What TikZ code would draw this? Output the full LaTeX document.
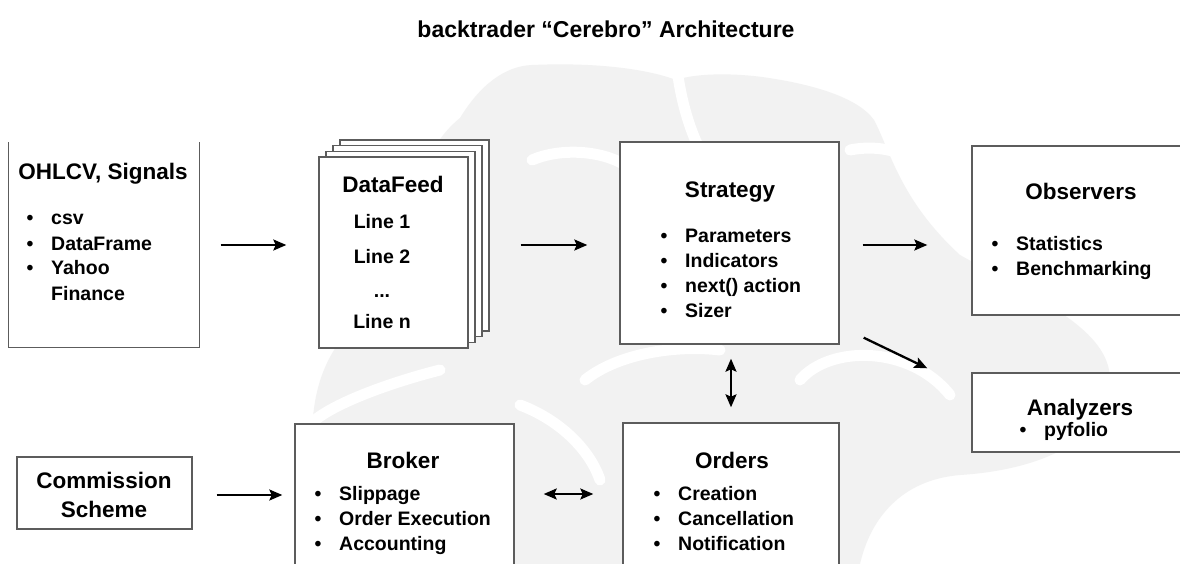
\documentclass[tikz,border=0pt]{standalone}
\usepackage{fontspec}
\setmainfont{Liberation Sans}
\usetikzlibrary{arrows.meta}
\definecolor{brain}{HTML}{F2F2F2}
\definecolor{frame}{HTML}{5C5C5C}
\newcommand{\boxhead}{\fontsize{22.5}{27}\selectfont\bfseries}
\newcommand{\boxitem}{\fontsize{19.5}{25}\selectfont\bfseries}
\newcommand{\bul}{\makebox[24.5pt][l]{\textbullet}}
\newcommand{\blist}[1]{\begin{tabular}[t]{@{}l@{}}#1\end{tabular}}
\newcommand{\feeddots}{...}

\begin{document}
\begin{tikzpicture}[x=1pt,y=-1pt,>={Stealth[length=13pt,width=11pt,inset=2.5pt]},
		panel/.style={draw=frame,line width=1.4pt,fill=white,inner sep=0pt},
		hd/.style={inner sep=0pt,anchor=base,font=\boxhead},
		lst/.style={inner sep=0pt,anchor=base west,font=\boxitem},
		link/.style={line width=2.3pt}]
		%
		\useasboundingbox (0,0) rectangle (1180,564);
		\clip (0,0) rectangle (1180,564);
		\fill[white] (0,0) rectangle (1180,564);
		%
		% brain in the background
		\fill[brain] (312,564) -- (312,440) .. controls (312,380) and (330,330) .. (400,290)
			.. controls (400,220) and (420,150) .. (460,118)
			.. controls (480,85) and (505,66) .. (532,65)
			.. controls (600,62) and (650,70) .. (676,80)
			.. controls (700,72) and (740,74) .. (762,77)
			.. controls (820,85) and (860,100) .. (874,120)
			.. controls (890,150) and (900,200) .. (960,255)
			.. controls (1040,300) and (1110,330) .. (1110,380)
			.. controls (1110,440) and (1040,470) .. (960,475)
			.. controls (900,480) and (870,520) .. (860,564) -- cycle;
		\begin{scope}[white,line width=11pt,line cap=round]
			\draw (676,60) .. controls (680,100) and (690,130) .. (700,150);
			\draw (532,160) .. controls (560,148) and (600,150) .. (625,165);
			\draw (850,150) .. controls (900,140) and (945,170) .. (955,215);
			\draw (800,380) .. controls (830,345) and (910,345) .. (950,395);
			\draw (585,380) .. controls (620,352) and (680,345) .. (720,350);
			\draw (440,370) .. controls (400,380) and (340,400) .. (315,420);
			\draw (520,405) .. controls (560,420) and (590,450) .. (600,480);
		\end{scope}
		%
		\node[inner sep=0pt,anchor=base,font=\fontsize{23}{28}\selectfont\bfseries] (title) at (606,38)
			{backtrader “Cerebro” Architecture};
		%
		% boxes
		\node[panel,draw=none,minimum width=190pt,minimum height=204pt] (ohlcv) at (104,245) {};
		\draw[draw=frame,line width=1.4pt] (ohlcv.north west) |- (ohlcv.south east) -- (ohlcv.north east);
		\coordinate (feedc) at (393.5,252.5);
		\foreach \i in {3,2,1}
			\node[panel,minimum width=149pt,minimum height=191pt] (sheet\i) at ([shift={(7*\i,-5.7*\i)}]feedc) {};
		\node[panel,minimum width=149pt,minimum height=191pt] (feed) at (feedc) {};
		\node[panel,minimum width=219pt,minimum height=202pt] (strat) at (729.5,243) {};
		\node[panel,minimum width=218pt,minimum height=169pt] (obs) at (1081,230.5) {};
		\node[panel,minimum width=218pt,minimum height=79pt] (ana) at (1081,412.5) {};
		\node[panel,minimum width=175pt,minimum height=72pt] (comm) at (104.5,493) {};
		\node[panel,minimum width=219pt,minimum height=160pt] (broker) at (404.5,504) {};
		\node[panel,minimum width=216pt,minimum height=161pt] (orders) at (731,503.5) {};
		%
		% texts
		\node[hd] (t-ohlcv) at (103,180) {OHLCV, Signals};
		\node[lst] (l-ohlcv) at (26.5,225) {\blist{\bul csv\\ \bul DataFrame\\ \bul Yahoo\\ \hspace*{24.5pt}Finance}};
		\node[hd] (t-feed) at (393,193) {DataFeed};
		\foreach \txt/\y [count=\k] in {Line 1/228, Line 2/263, \feeddots/297, Line n/328}
			\node[hd,font=\boxitem] (line\k) at (382,\y) {\txt};
		\node[hd] (t-strat) at (730,198) {Strategy};
		\node[lst] (l-strat) at (660.5,242) {\blist{\bul Parameters\\ \bul Indicators\\ \bul next() action\\ \bul Sizer}};
		\node[hd] (t-obs) at (1081,200) {Observers};
		\node[lst] (l-obs) at (991.5,250) {\blist{\bul Statistics\\ \bul Benchmarking}};
		\node[hd] (t-ana) at (1080,415) {Analyzers};
		\node[lst] (l-ana) at (1019.5,436) {\blist{\bul pyfolio}};
		\node[hd] (t-comm) at (104,488) {\begin{tabular}[t]{@{}c@{}}Commission\\[2pt] Scheme\end{tabular}};
		\node[hd] (t-broker) at (403,468) {Broker};
		\node[lst] (l-broker) at (314.5,500) {\blist{\bul Slippage\\ \bul Order Execution\\ \bul Accounting}};
		\node[hd] (t-orders) at (732,468) {Orders};
		\node[lst] (l-orders) at (653.5,500) {\blist{\bul Creation\\ \bul Cancellation\\ \bul Notification}};
		%
		% arrows
		\draw[link,->,shorten <=21pt,shorten >=32pt] (ohlcv.east) -- (ohlcv.east -| feed.west);
		\draw[link,->,shorten <=52pt,shorten >=32pt] ([yshift=-2pt]strat.west -| feed.east) -- ([yshift=-2pt]strat.west);
		\draw[link,->,shorten <=23pt,shorten >=44pt] ([yshift=-2pt]strat.east) -- ([yshift=-2pt]strat.east -| obs.west);
		\draw[link,->] ([shift={(24pt,7pt)}]strat.south east) -- ([shift={(-44pt,4pt)}]ana.north west);
		\draw[link,<->,shorten <=14pt,shorten >=15pt] (orders.north |- strat.south) -- (orders.north);
		\draw[link,->,shorten <=24pt,shorten >=12pt] ([yshift=-2pt]comm.east) -- ([yshift=-2pt]comm.east -| broker.west);
		\draw[link,<->,shorten <=29pt,shorten >=29pt] ([yshift=-1pt]comm.east -| broker.east) -- ([yshift=-1pt]comm.east -| orders.west);
		%
	\end{tikzpicture}
\end{document}
